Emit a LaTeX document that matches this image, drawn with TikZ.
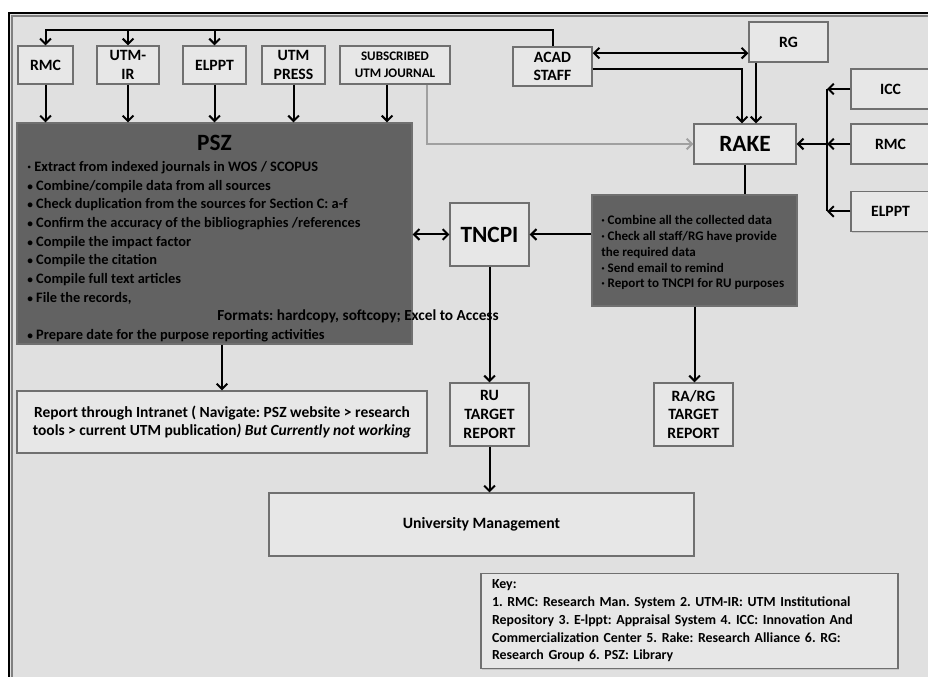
\documentclass[tikz,border=0pt]{standalone}
\usepackage{fontspec}
\setmainfont{Carlito}
\usetikzlibrary{arrows.meta,positioning,shadows}

\definecolor{panel}{HTML}{E0E0E0}
\definecolor{boxfill}{HTML}{E7E7E7}
\definecolor{boxline}{HTML}{707070}
\definecolor{darkfill}{HTML}{626262}
\definecolor{faint}{HTML}{A0A0A0}

\newcommand{\pszdot}{{\fontsize{8.5}{8.5}\selectfont •}}

\begin{document}
\frenchspacing
\begin{tikzpicture}[x=0.75pt, y=-0.75pt,
  srcbox/.style={rectangle, draw=boxline, fill=boxfill, line width=1pt, inner sep=1pt, align=center,
    font=\bfseries\fontsize{11.8}{14}\selectfont, drop shadow={opacity=0.25, shadow xshift=1pt, shadow yshift=-1pt}},
  darkbox/.style={rectangle, draw=boxline, fill=darkfill, line width=1pt, drop shadow={opacity=0.25, shadow xshift=1pt, shadow yshift=-1pt}},
  sq/.style={minimum width=59.25pt, minimum height=30pt},
  tall/.style={minimum width=59.25pt, minimum height=47.25pt},
  listtext/.style={anchor=north west, inner sep=0pt, align=left},
  edge/.style={-{Straight Barb[length=4pt,width=8pt]}, line width=1.5pt},
  dbl/.style={{Straight Barb[length=4pt,width=8pt]}-{Straight Barb[length=4pt,width=8pt]}, line width=1.5pt},
  link/.style={line width=1.5pt},
  greyedge/.style={edge, draw=faint}
]
\useasboundingbox (0,0) rectangle (928,677);

% panel
\fill[panel] (8,12) rectangle (940,690);
\draw[line width=2.2pt] (9,690) -- (9,13) -- (940,13);
\draw[gray, line width=0.8pt] (12,690) -- (12,16) -- (940,16);

% sources
\node[srcbox, minimum width=41.25pt, minimum height=28.5pt] (rmc) at (45.5,65) {RMC};
\node[srcbox, minimum width=46.5pt, minimum height=28.5pt] (utmir) at (128,65) {UTM-\\IR};
\node[srcbox, minimum width=47.25pt, minimum height=28.5pt] (elppt) at (214.5,65) {ELPPT};
\node[srcbox, minimum width=47.25pt, minimum height=28.5pt] (press) at (293.5,65) {UTM\\PRESS};
\node[srcbox, minimum width=82.5pt, minimum height=28.5pt, font=\bfseries\fontsize{9.8}{13}\selectfont] (journal) at (395,65) {SUBSCRIBED\\UTM JOURNAL};
\node[srcbox, minimum width=59.25pt, minimum height=29.25pt] (acad) at (552.5,66.5) {ACAD\\STAFF};
\node[srcbox, sq] (rg) at (788.5,42) {RG};
\node[srcbox, minimum width=76.5pt, minimum height=30pt, font=\bfseries\fontsize{17.5}{20}\selectfont] (rake) at (745,144) {RAKE};
\node[srcbox, sq] (icc) at (890.5,89) {ICC};
\node[srcbox, sq] (rmcr) at (890.5,144) {RMC};
\node[srcbox, sq] (elpptr) at (890.5,211.5) {ELPPT};

% PSZ
\node[darkbox, minimum width=296.25pt, minimum height=165.75pt] (psz) at (214.5,233.5) {};
\node[font=\bfseries\fontsize{17.5}{20}\selectfont] (psztitle) at (214.5,143) {PSZ};
\node[listtext, font=\bfseries\fontsize{10.8}{14}\selectfont] (pszlist) at (27,161) {%
  · Extract from indexed journals in WOS / SCOPUS\\
  \pszdot{} Combine/compile data from all sources\\
  \pszdot{} Check duplication from the sources for Section C: a-f\\
  \pszdot{} Confirm the accuracy of the bibliographies /references\\
  \pszdot{} Compile the impact factor\\
  \pszdot{} Compile the citation\\
  \pszdot{} Compile full text articles\\
  \pszdot{} File the records,\\
  \hspace*{142.5pt}{\fontsize{11.5}{14}\selectfont Formats: hardcopy, softcopy; Excel to Access}\\
  \pszdot{} Prepare date for the purpose reporting activities};

\node[srcbox, tall, font=\bfseries\fontsize{17.5}{20}\selectfont] (tncpi) at (489.5,234.5) {TNCPI};

% RAKE tasks
\node[darkbox, minimum width=153.75pt, minimum height=83.25pt] (collect) at (694.5,250.5) {};
\node[listtext, font=\bfseries\fontsize{9.8}{11.8}\selectfont] (collectlist) at (601,215.5) {%
  · Combine all the collected data\\
  · Check all staff/RG have provide\\
  the required data\\
  · Send email to remind\\
  · Report to TNCPI for RU purposes};

% reports
\node[srcbox, minimum width=307.5pt, minimum height=46.5pt, font=\bfseries\fontsize{11.6}{14}\selectfont] (intranet) at (222,422)
  {Report through Intranet ( Navigate: PSZ website > research\\tools > current UTM publication\textit{) But Currently not working}};
\node[srcbox, tall] (ru) at (489.5,414.5) {RU\\TARGET\\REPORT};
\node[srcbox, tall] (rarg) at (693.5,414.5) {RA/RG\\TARGET\\REPORT};
\node[srcbox, minimum width=318.75pt, minimum height=47.25pt, font=\bfseries\fontsize{11.8}{13}\selectfont] (univ) at (481.5,524.5) {University Management};
\node[srcbox, align=left, text width=296.25pt, inner xsep=8.25pt, minimum height=71.25pt, font=\bfseries\fontsize{10.4}{13.3}\selectfont] (key) at (689.5,621)
  {Key:\\
   1. RMC: Research Man. System 2. UTM-IR: UTM Institutional\\
   Repository 3. E-lppt: Appraisal System 4. ICC: Innovation And\\
   Commercialization Center 5. Rake: Research Alliance 6. RG:\\
   Research Group 6. PSZ: Library};

% connectors
\coordinate (feed) at (45.5,30);
\draw[edge] (acad.north) -- (acad.north |- feed) -- (feed) -- (rmc.north);
\foreach \n in {utmir,elppt} \draw[edge] (\n.north |- feed) -- (\n.north);
\foreach \n in {rmc,utmir,elppt,press} \draw[edge] (\n.south) -- (\n.south |- psz.north);
\draw[edge] ([xshift=-6pt]journal.south) -- ([xshift=-6pt]journal.south |- psz.north);
\draw[greyedge] ([xshift=24pt]journal.south) |- (rake.west);

\draw[dbl] ([yshift=10pt]acad.east) -- ([yshift=10pt]acad.east -| rg.west);
\draw[edge] ([yshift=-2pt]acad.east) -| ([xshift=-2.25pt]rake.north);
\draw[edge] ([xshift=8.25pt]rake.north |- rg.south) -- ([xshift=8.25pt]rake.north);

\coordinate (rbus) at (827,144);
\foreach \n in {icc,rmcr,elpptr} \draw[edge] (\n.west) -- (\n.west -| rbus);
\draw[link] (icc.west -| rbus) -- (elpptr.west -| rbus);
\draw[edge] (rbus) -- (rake.east);

\draw[link] (rake.south) -- (rake.south |- collect.north);
\draw[edge] (collect.west |- tncpi.east) -- (tncpi.east);
\draw[dbl] (psz.east |- tncpi.west) -- (tncpi.west);
\draw[edge] (tncpi) -- (ru);
\draw[edge] (collect.south) -- (collect.south |- rarg.north);
\draw[edge] (ru.south) -- (ru.south |- univ.north);
\draw[edge] (intranet.north |- psz.south) -- (intranet.north);
\end{tikzpicture}
\end{document}
